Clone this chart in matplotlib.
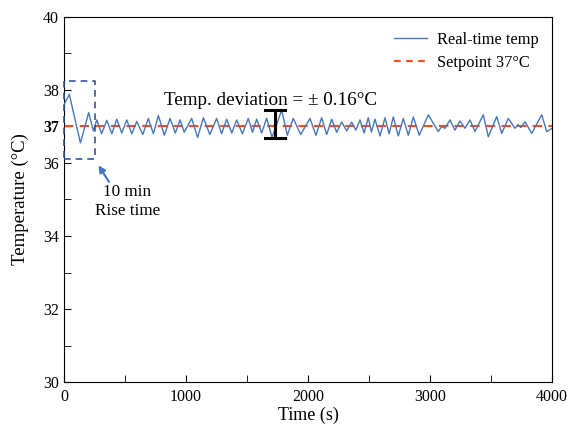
import matplotlib
matplotlib.use("Agg")
import matplotlib.pyplot as plt
from matplotlib.lines import Line2D

plt.rcParams['font.family'] = ['Liberation Serif', 'DejaVu Serif']

# Real-time temperature readings (time in s, temperature in °C), read at extrema
time_s = [0, 43, 134, 202, 240, 268, 308, 350, 392, 432, 473, 514, 555, 596, 645,
          691, 732, 773, 822, 869, 912, 951, 985, 1046, 1095, 1142, 1195, 1251, 1292,
          1333, 1375, 1415, 1462, 1510, 1545, 1579, 1620, 1661, 1705, 1784, 1830, 1879,
          1940, 2016, 2065, 2112, 2153, 2194, 2235, 2276, 2317, 2358, 2392, 2426, 2460,
          2494, 2520, 2549, 2590, 2631, 2665, 2699, 2740, 2781, 2822, 2863, 2912, 2986,
          3068, 3095, 3123, 3164, 3205, 3246, 3287, 3328, 3369, 3437, 3478, 3547, 3588,
          3642, 3697, 3720, 3745, 3779, 3834, 3916, 3957, 4000]
temp_c = [37.60, 37.88, 36.55, 37.38, 36.88, 37.18, 36.80, 37.17, 36.80, 37.20, 36.82,
          37.18, 36.80, 37.14, 36.78, 37.22, 36.80, 37.30, 36.76, 37.22, 36.82, 37.18,
          36.84, 37.22, 36.70, 37.24, 36.78, 37.22, 36.80, 37.20, 36.82, 37.18, 36.80,
          37.22, 36.84, 37.20, 36.82, 37.23, 36.70, 37.45, 36.76, 37.22, 36.78, 37.22,
          36.76, 37.24, 36.78, 37.20, 36.84, 37.12, 36.88, 37.12, 36.90, 37.18, 36.82,
          37.24, 36.85, 37.20, 36.74, 37.24, 36.80, 37.26, 36.74, 37.22, 36.76, 37.26,
          36.76, 37.32, 36.86, 37.00, 36.95, 37.18, 36.90, 37.15, 36.95, 37.18, 36.86,
          37.32, 36.72, 37.27, 36.81, 37.22, 36.95, 37.05, 36.97, 37.13, 36.81, 37.32,
          36.86, 36.95]

setpoint = 37
x_ticks = [0, 1000, 2000, 3000, 4000]
y_ticks = [30, 32, 34, 36, 37, 38, 40]

# Annotation values
dev_time = 1730
dev_low, dev_high = 36.68, 37.45
box_t0, box_t1 = 0, 250
box_lo, box_hi = 36.1, 38.25

line_color = '#4577BB'
set_color = '#FF4A1C'

fig = plt.figure(figsize=(5.67, 4.24), dpi=100)
ax = fig.add_axes([0.113, 0.099, 0.8605, 0.861])

ax.plot(time_s, temp_c, color=line_color, lw=1.0, zorder=3)
ax.axhline(setpoint, color=set_color, lw=1.5, ls=(0, (4.5, 3)), zorder=2)

# Rise-time box
ax.plot([box_t0, box_t1, box_t1, box_t0, box_t0], [box_lo, box_lo, box_hi, box_hi, box_lo],
        color='#2F5597', lw=1.2, ls=(0, (4, 3)), zorder=4, clip_on=False)
ax.annotate('', xy=(270, 36.0), xytext=(380, 35.42),
            arrowprops=dict(arrowstyle='-|>', color='#4472C4', lw=1.5, mutation_scale=10))
ax.text(520, 34.95, '10 min\nRise time', ha='center', va='center', fontsize=12.3, linespacing=1.2)

# Deviation bar
ax.plot([dev_time, dev_time], [dev_low, dev_high], color='black', lw=2.2, zorder=5)
ax.plot([dev_time - 80, dev_time + 80], [dev_high, dev_high], color='black', lw=2.2, zorder=5)
ax.plot([dev_time - 80, dev_time + 80], [dev_low, dev_low], color='black', lw=2.2, zorder=5)
ax.text(1695, 37.7, 'Temp. deviation = ± 0.16°C', ha='center', va='center', fontsize=13.8)

ax.set_xlim(0, 4000)
ax.set_ylim(30, 40)
ax.set_xticks(x_ticks)
ax.set_xticks([500, 1500, 2500, 3500], minor=True)
ax.set_yticks(y_ticks)
ax.set_yticks([31, 33, 35, 39], minor=True)
ax.set_yticklabels([str(v) for v in y_ticks])
for lbl in ax.get_yticklabels():
    if lbl.get_text() == '37':
        lbl.set_fontweight('bold')
ax.tick_params(which='both', direction='in', labelsize=11.5, top=False, right=False)
ax.tick_params(axis='x', pad=5)
ax.tick_params(which='major', length=5)
ax.tick_params(which='minor', length=5)
ax.set_xlabel('Time (s)', fontsize=13, labelpad=1)
ax.set_ylabel('Temperature (°C)', fontsize=13.5, labelpad=10)

handles = [Line2D([], [], color=line_color, lw=1.0),
           Line2D([], [], color=set_color, lw=1.5, ls=(0, (3.2, 2.6)))]
leg = ax.legend(handles, ['Real-time temp', 'Setpoint 37°C'], loc='upper right',
                frameon=False, fontsize=11.8, handlelength=2.0,
                handletextpad=0.6, labelspacing=0.45, bbox_to_anchor=(1.003, 1.0))

fig.savefig('out.png', dpi=100)
